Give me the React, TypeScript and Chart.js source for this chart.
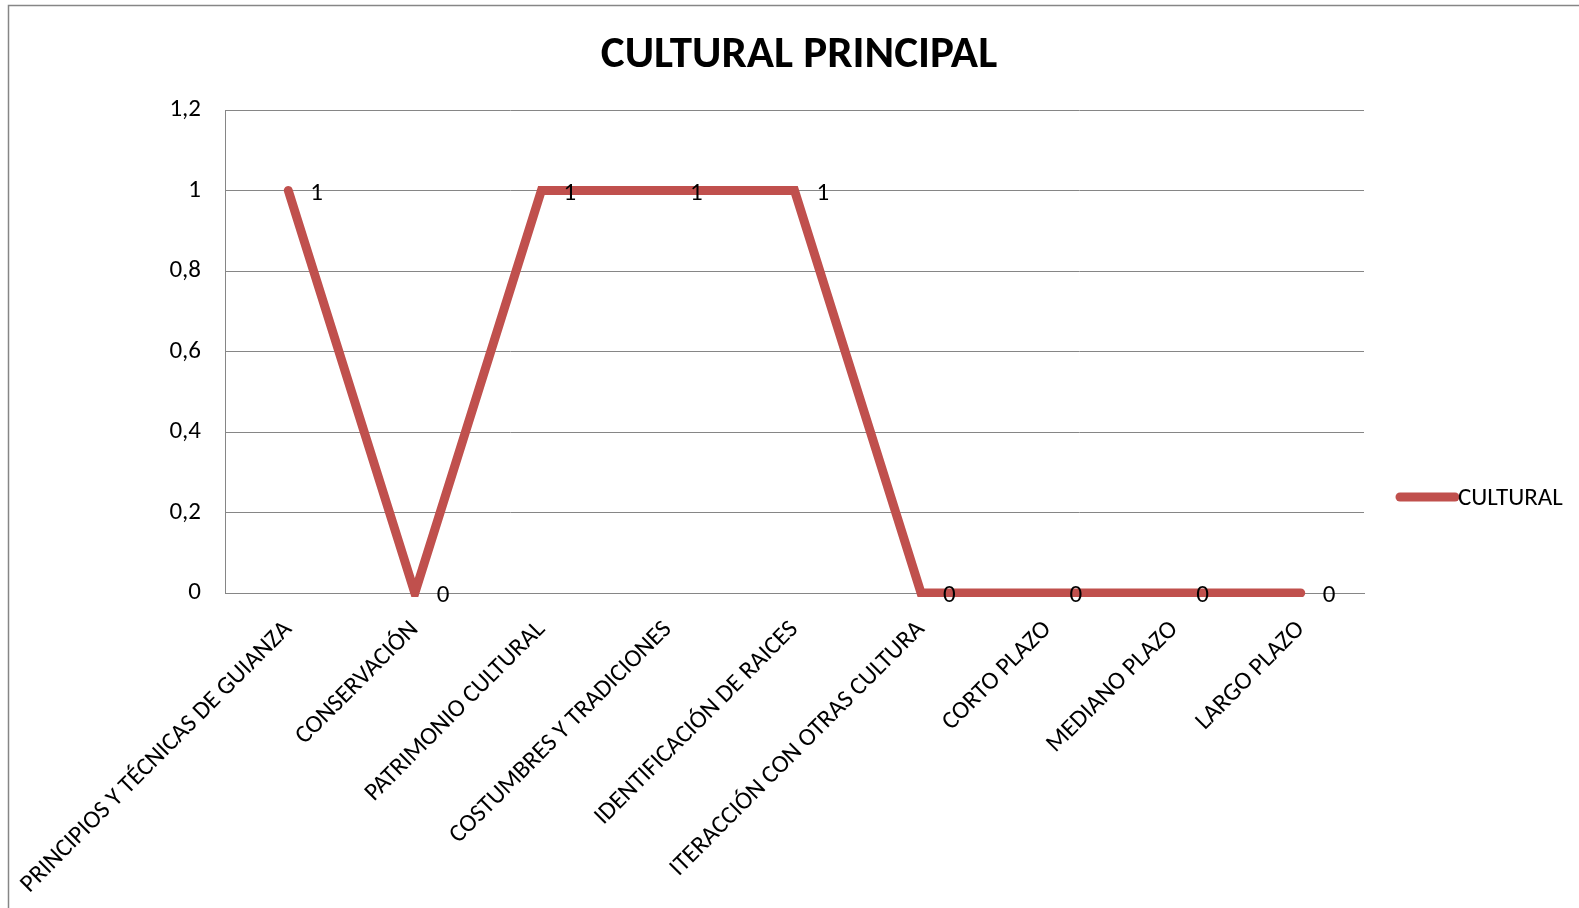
import React, { useEffect, useRef } from "react";
import { Chart, registerables } from "chart.js";

Chart.register(...registerables);

const chartTitle = "CULTURAL PRINCIPAL";
const seriesName = "CULTURAL";
const categories = [
  "PRINCIPIOS Y TÉCNICAS DE GUIANZA",
  "CONSERVACIÓN",
  "PATRIMONIO CULTURAL",
  "COSTUMBRES Y TRADICIONES",
  "IDENTIFICACIÓN DE RAICES",
  "ITERACCIÓN CON OTRAS CULTURA",
  "CORTO PLAZO",
  "MEDIANO PLAZO",
  "LARGO PLAZO",
];
const culturalValues = [1, 0, 1, 1, 1, 0, 0, 0, 0];
const yMin = 0;
const yMax = 1.2;
const yStep = 0.2;

const FONT = "Carlito, Calibri, Lato, sans-serif";
const FS = 25;
const LINE_COLOR = "#C0504D";
const GRID_COLOR = "#868686";

const fmt = (v: number) => parseFloat(v.toFixed(2)).toString().replace(".", ",");

const decorPlugin = {
  id: "decor",
  afterDatasetsDraw(chart: any) {
    const ctx = chart.ctx;
    const meta = chart.getDatasetMeta(0);
    const ds = chart.data.datasets[0];
    ctx.save();
    ctx.font = `${FS}px ${FONT}`;
    ctx.fillStyle = "#000";
    ctx.textAlign = "left";
    ctx.textBaseline = "alphabetic";
    meta.data.forEach((pt: any, i: number) => {
      ctx.fillText(fmt(ds.data[i]), pt.x + 22, pt.y + 9);
    });
    ctx.restore();
  },
  afterDraw(chart: any) {
    const ctx = chart.ctx;
    const ds = chart.data.datasets[0];
    ctx.save();
    // outer chart border
    ctx.strokeStyle = GRID_COLOR;
    ctx.lineWidth = 1.5;
    ctx.strokeRect(8.5, 5.5, 3000, 3000);
    // title
    ctx.fillStyle = "#000";
    ctx.font = `bold 45px ${FONT}`;
    ctx.textAlign = "center";
    ctx.textBaseline = "alphabetic";
    ctx.fillText(chartTitle, 799, 67);
    // legend
    ctx.strokeStyle = ds.borderColor;
    ctx.lineWidth = 9;
    ctx.lineCap = "round";
    ctx.beginPath();
    ctx.moveTo(1400, 497);
    ctx.lineTo(1455, 497);
    ctx.stroke();
    ctx.font = `${FS}px ${FONT}`;
    ctx.textAlign = "left";
    ctx.fillText(ds.label, 1458, 505);
    ctx.restore();
  },
};

export default function App() {
  const ref = useRef<HTMLCanvasElement | null>(null);
  useEffect(() => {
    if (!ref.current) return;
    const chart = new Chart(ref.current, {
      type: "line",
      data: {
        labels: categories,
        datasets: [
          {
            label: seriesName,
            data: culturalValues,
            borderColor: LINE_COLOR,
            backgroundColor: LINE_COLOR,
            borderWidth: 9,
            borderCapStyle: "round",
            borderJoinStyle: "miter",
            pointRadius: 0,
            tension: 0,
            clip: { left: 20, right: 20, top: 20, bottom: 4 },
          } as any,
        ],
      },
      options: {
        responsive: false,
        animation: false,
        devicePixelRatio: 1,
        layout: { padding: { left: 0, right: 215, top: 110, bottom: 0 } },
        plugins: {
          legend: { display: false },
          title: { display: false },
          tooltip: { enabled: false },
        },
        scales: {
          x: {
            type: "category",
            offset: true,
            grid: { display: false, drawTicks: false },
            border: { display: true, color: GRID_COLOR, width: 1 },
            ticks: {
              autoSkip: false,
              minRotation: 45,
              maxRotation: 45,
              padding: 22,
              color: "#000",
              font: { family: FONT, size: FS },
            },
            afterFit: (s: any) => {
              s.height = 315;
              s.paddingLeft = 0;
              s.paddingRight = 0;
            },
          },
          y: {
            min: yMin,
            max: yMax,
            grid: { color: GRID_COLOR, lineWidth: 1, drawTicks: false },
            border: { display: true, color: GRID_COLOR, width: 1 },
            ticks: {
              stepSize: yStep,
              padding: 24,
              color: "#000",
              font: { family: FONT, size: FS },
              callback: (v: any) => fmt(Number(v)),
            },
            afterFit: (s: any) => {
              s.width = 225;
            },
          },
        },
      },
      plugins: [decorPlugin],
    });
    return () => chart.destroy();
  }, []);
  return (
    <canvas
      ref={ref}
      width={1579}
      height={908}
      style={{ position: "fixed", left: 0, top: 0, width: 1579, height: 908, background: "#fff" }}
    />
  );
}
